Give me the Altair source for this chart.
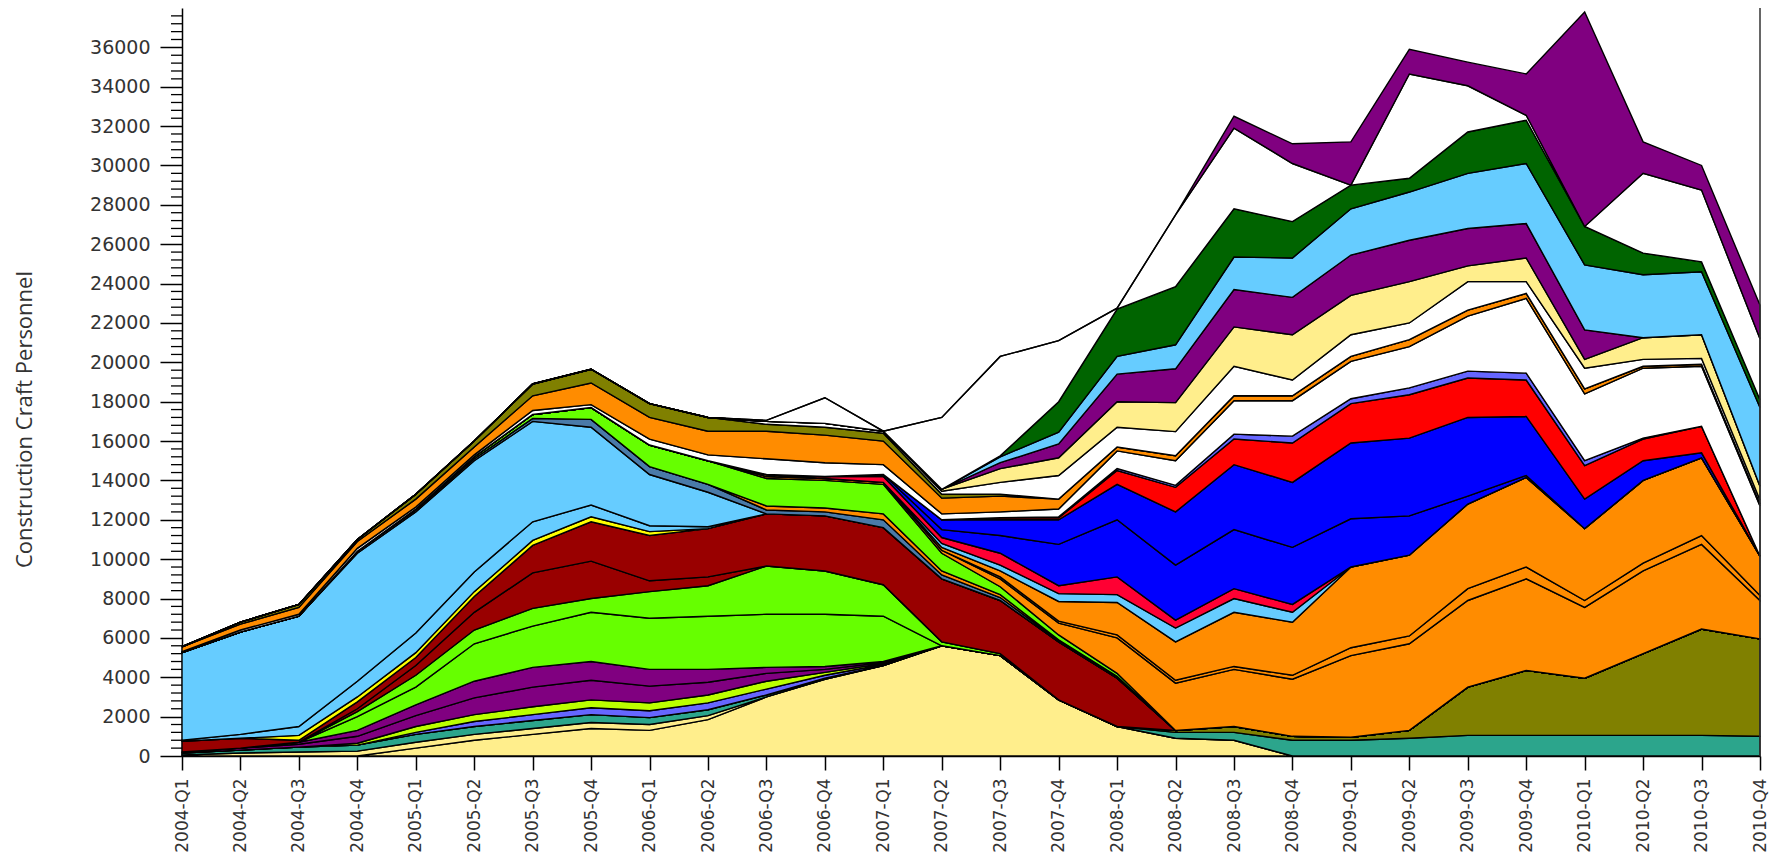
import altair as alt
import pandas as pd

quarters = ["2004-Q1", "2004-Q2", "2004-Q3", "2004-Q4",
            "2005-Q1", "2005-Q2", "2005-Q3", "2005-Q4",
            "2006-Q1", "2006-Q2", "2006-Q3", "2006-Q4",
            "2007-Q1", "2007-Q2", "2007-Q3", "2007-Q4",
            "2008-Q1", "2008-Q2", "2008-Q3", "2008-Q4",
            "2009-Q1", "2009-Q2", "2009-Q3", "2009-Q4",
            "2010-Q1", "2010-Q2", "2010-Q3", "2010-Q4"]

# stacking order: bottom -> top
series_names = [f"Series {i:02d}" for i in range(1, 38)]
series_colors = [
    "#FFEE8C", "#FFEE8C", "#2CA58C", "#808000", "#6666FF", "#BBFF00",
    "#800080", "#800080", "#66FF00", "#66FF00", "#990000", "#990000",
    "#FFFF00", "#66CCFF", "#66CCFF", "#4A7AA8", "#FF8C00", "#66FF00",
    "#FF8C00", "#FF8C00", "#FF8C00", "#66CCFF", "#FF0033", "#0000FF",
    "#0000FF", "#FF0000", "#6666FF", "#FFFFFF", "#FF8C00", "#808000",
    "#FFFFFF", "#FFEE8C", "#800080", "#66CCFF", "#006400", "#FFFFFF",
    "#800080",
]

s01 = [0, 0, 0, 0, 400, 800, 1100, 1400, 1300, 1850, 3000, 3900, 4600, 5600, 5100, 2850, 1500, 900, 800, 0, 0, 0, 0, 0, 0, 0, 0, 0]
s02 = [50, 150, 200, 250, 300, 300, 300, 300, 300, 200, 0, 0, 0, 0, 0, 0, 0, 0, 0, 0, 0, 0, 0, 0, 0, 0, 0, 0]
s03 = [100, 150, 250, 300, 400, 400, 400, 400, 350, 300, 100, 50, 0, 0, 0, 0, 0, 300, 400, 800, 800, 900, 1050, 1050, 1050, 1050, 1050, 1000]
s04 = [0, 0, 0, 0, 0, 0, 0, 0, 0, 0, 0, 0, 0, 0, 0, 0, 0, 100, 300, 200, 150, 400, 2450, 3300, 2900, 4150, 5400, 4950]
s05 = [0, 0, 0, 0, 100, 250, 300, 350, 350, 350, 300, 150, 50, 0, 0, 0, 0, 0, 0, 0, 0, 0, 0, 0, 0, 0, 0, 0]
s06 = [0, 0, 0, 100, 300, 350, 400, 400, 400, 400, 400, 150, 50, 0, 0, 0, 0, 0, 0, 0, 0, 0, 0, 0, 0, 0, 0, 0]
s07 = [50, 100, 150, 350, 550, 850, 1000, 1000, 850, 650, 400, 150, 50, 0, 0, 0, 0, 0, 0, 0, 0, 0, 0, 0, 0, 0, 0, 0]
s08 = [0, 0, 100, 300, 550, 850, 1000, 950, 850, 650, 300, 150, 50, 0, 0, 0, 0, 0, 0, 0, 0, 0, 0, 0, 0, 0, 0, 0]
s09 = [0, 0, 0, 700, 900, 1900, 2100, 2500, 2600, 2700, 2700, 2650, 2300, 0, 0, 0, 0, 0, 0, 0, 0, 0, 0, 0, 0, 0, 0, 0]
s10 = [0, 0, 0, 250, 600, 700, 900, 700, 1350, 1550, 2450, 2200, 1600, 200, 100, 0, 0, 0, 0, 0, 0, 0, 0, 0, 0, 0, 0, 0]
s11 = [0, 0, 0, 150, 500, 900, 1800, 1900, 550, 450, 0, 0, 0, 0, 0, 0, 0, 0, 0, 0, 0, 0, 0, 0, 0, 0, 0, 0]
s12 = [550, 500, 100, 350, 400, 800, 1400, 2000, 2300, 2450, 2650, 2800, 2900, 3200, 2700, 2950, 2450, 0, 0, 0, 0, 0, 0, 0, 0, 0, 0, 0]
s13 = [0, 0, 250, 250, 250, 250, 250, 250, 200, 0, 0, 0, 0, 0, 0, 0, 0, 0, 0, 0, 0, 0, 0, 0, 0, 0, 0, 0]
s14 = [50, 200, 450, 800, 1000, 1000, 950, 600, 300, 100, 0, 0, 0, 0, 0, 0, 0, 0, 0, 0, 0, 0, 0, 0, 0, 0, 0, 0]
s15 = [4450, 5200, 5600, 6500, 6150, 5650, 5100, 3950, 2600, 1750, 0, 0, 0, 0, 0, 0, 0, 0, 0, 0, 0, 0, 0, 0, 0, 0, 0, 0]
s16 = [0, 0, 0, 100, 100, 100, 150, 400, 400, 400, 200, 200, 400, 200, 150, 50, 50, 0, 0, 0, 0, 0, 0, 0, 0, 0, 0, 0]
s17 = [0, 0, 0, 0, 0, 0, 0, 0, 0, 0, 200, 200, 300, 200, 150, 50, 50, 0, 0, 0, 0, 0, 0, 0, 0, 0, 0, 0]
s18 = [0, 0, 0, 0, 50, 100, 200, 600, 1100, 1200, 1400, 1400, 1500, 900, 400, 250, 150, 0, 0, 0, 0, 0, 0, 0, 0, 0, 0, 0]
s19 = [0, 0, 0, 0, 0, 0, 0, 0, 0, 0, 100, 100, 100, 150, 400, 600, 1800, 2400, 2900, 2900, 4150, 4400, 4400, 4650, 3600, 4200, 4300, 1950]
s20 = [0, 0, 0, 0, 0, 0, 0, 0, 0, 0, 0, 0, 0, 0, 100, 100, 150, 150, 150, 200, 400, 400, 600, 600, 350, 400, 450, 250]
s21 = [0, 0, 0, 0, 0, 0, 0, 0, 0, 0, 100, 0, 0, 150, 300, 1000, 1650, 1950, 2750, 2700, 4100, 4100, 4300, 4550, 3650, 4200, 3950, 2000]
s22 = [0, 0, 0, 0, 0, 0, 0, 0, 0, 0, 0, 0, 0, 200, 300, 400, 400, 700, 700, 500, 0, 0, 0, 0, 0, 0, 0, 0]
s23 = [0, 0, 0, 0, 0, 0, 0, 0, 0, 0, 0, 100, 300, 300, 600, 400, 900, 400, 500, 400, 0, 0, 0, 0, 0, 0, 0, 0]
s24 = [0, 0, 0, 0, 0, 0, 0, 0, 0, 0, 0, 0, 100, 400, 900, 2100, 2900, 2800, 3000, 2900, 2450, 2000, 400, 100, 0, 0, 0, 0]
s25 = [0, 0, 0, 0, 0, 0, 0, 0, 0, 0, 0, 0, 0, 500, 800, 1250, 1800, 2700, 3300, 3300, 3850, 3950, 4000, 3000, 1500, 1000, 250, 0]
s26 = [0, 0, 0, 0, 0, 0, 0, 0, 0, 0, 0, 0, 0, 0, 100, 100, 700, 1250, 1300, 2000, 2000, 2200, 2000, 1850, 1700, 1100, 1350, 0]
s27 = [0, 0, 0, 0, 0, 0, 0, 0, 0, 0, 0, 0, 0, 0, 0, 50, 100, 100, 250, 350, 250, 350, 350, 350, 250, 50, 0, 0]
s28 = [50, 100, 100, 150, 100, 100, 200, 150, 300, 300, 800, 700, 500, 300, 300, 400, 900, 1250, 1700, 1800, 1900, 2100, 2800, 3800, 3400, 3550, 3050, 2550]
s29 = [250, 300, 350, 350, 400, 400, 750, 1100, 1100, 1200, 1400, 1400, 1200, 800, 800, 500, 200, 250, 250, 250, 250, 350, 300, 250, 250, 100, 100, 100]
s30 = [0, 100, 150, 100, 250, 300, 600, 700, 700, 700, 350, 400, 400, 200, 100, 0, 0, 0, 0, 0, 0, 0, 0, 0, 0, 0, 0, 0]
s31 = [0, 0, 0, 0, 0, 0, 0, 0, 0, 0, 150, 200, 100, 150, 600, 1200, 1000, 1230, 1500, 800, 1100, 850, 1450, 600, 1050, 350, 300, 200]
s32 = [0, 0, 0, 0, 0, 0, 0, 0, 0, 0, 0, 0, 0, 100, 700, 900, 1300, 1470, 2000, 2300, 2000, 2100, 800, 1200, 450, 1100, 1200, 700]
s33 = [0, 0, 0, 0, 0, 0, 0, 0, 0, 0, 0, 0, 0, 0, 300, 700, 1400, 1720, 1900, 1900, 2050, 2100, 1900, 1750, 1500, 0, 0, 0]
s34 = [0, 0, 0, 0, 0, 0, 0, 0, 0, 0, 0, 0, 0, 0, 300, 600, 900, 1220, 1650, 2000, 2350, 2450, 2800, 3050, 3300, 3200, 3200, 4000]
s35 = [0, 0, 0, 0, 0, 0, 0, 0, 0, 0, 0, 0, 0, 0, 50, 1550, 2400, 2950, 2450, 1850, 1200, 700, 2100, 2200, 1950, 1100, 500, 400]
s36 = [0, 0, 0, 0, 0, 0, 0, 0, 0, 0, 50, 1300, 0, 3650, 5050, 3100, 50, 3650, 4100, 2950, 0, 5300, 2350, 250, 0, 4050, 3650, 3100]
s37 = [0, 0, 0, 0, 0, 0, 0, 0, 0, 0, 0, 0, 0, 0, 0, 0, 0, 0, 600, 1000, 2200, 1250, 1200, 2100, 10900, 1600, 1250, 1700]

series_values = [s01, s02, s03, s04, s05, s06, s07, s08, s09, s10, s11, s12,
                 s13, s14, s15, s16, s17, s18, s19, s20, s21, s22, s23, s24,
                 s25, s26, s27, s28, s29, s30, s31, s32, s33, s34, s35, s36, s37]

y_label_values = list(range(0, 36001, 2000))
minor_tick_values = [v for v in range(400, 38000, 400) if v % 2000 != 0]

rows = []
for i, (name, vals) in enumerate(zip(series_names, series_values)):
    for q, v in zip(quarters, vals):
        rows.append({"quarter": q, "series": name, "idx": i, "value": v})
df = pd.DataFrame(rows)

W, H = 1578, 748

x_scale = alt.Scale(domain=quarters, type="point", padding=0)

x_enc = alt.X(
    "quarter:O", title=None, scale=x_scale,
    axis=alt.Axis(labelAngle=270, labelFont="DejaVu Sans", labelFontSize=17,
                  labelColor="#333333", tickSize=14, tickWidth=1.5,
                  tickColor="#000000", domainColor="#000000", domainWidth=1.5,
                  labelPadding=8, grid=False),
)

area = alt.Chart(df).mark_area(
    stroke="#000000", strokeWidth=1.4, interpolate="linear", opacity=1
).encode(
    x=x_enc,
    y=alt.Y("value:Q", stack="zero",
            scale=alt.Scale(domain=[0, 38000], nice=False),
            axis=alt.Axis(values=y_label_values, format="d", tickSize=22,
                          tickWidth=1.5, tickColor="#000000",
                          domainColor="#000000", domainWidth=1.5,
                          labelFont="DejaVu Sans", labelFontSize=19,
                          labelColor="#333333", labelPadding=10, grid=False,
                          title="Construction Craft Personnel",
                          titleFont="Open Sans", titleFontSize=22,
                          titleFontWeight="normal", titleColor="#333333",
                          titleAngle=270, titleX=-158, titleY=411,
                          titleAlign="center", titleBaseline="middle")),
    color=alt.Color("series:N", scale=alt.Scale(domain=series_names, range=series_colors),
                    legend=None),
    order=alt.Order("idx:Q", sort="ascending"),
)

minor = alt.Chart(pd.DataFrame({"v": minor_tick_values})).mark_rule(
    color="#000000", strokeWidth=1.3
).encode(
    y=alt.Y("v:Q"),
    x=alt.value(-11),
    x2=alt.value(0),
)

right_line = alt.Chart(pd.DataFrame({"quarter": [quarters[-1]]})).mark_rule(
    color="#333333", strokeWidth=1.5
).encode(
    x=alt.X("quarter:O", scale=x_scale),
    y=alt.value(0),
    y2=alt.value(H),
)

chart = alt.layer(area, minor, right_line).properties(
    width=W, height=H,
    autosize=alt.AutoSizeParams(type="none"),
    padding={"left": 174, "top": 0, "right": 12, "bottom": 96},
    background="#FFFFFF",
).configure_view(stroke=None).configure_scale(pointPadding=0)

chart.save("out.html", embed_options={"renderer": "svg", "actions": False})
